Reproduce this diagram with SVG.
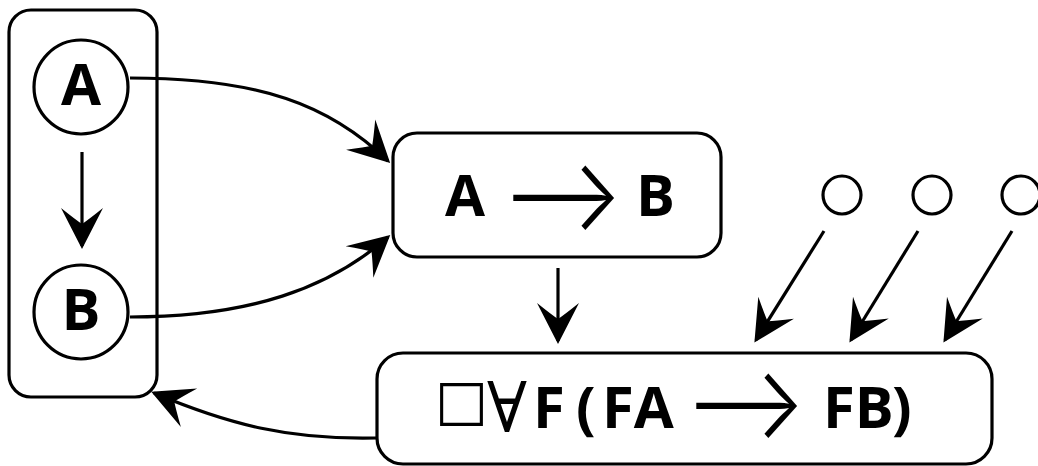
<svg xmlns="http://www.w3.org/2000/svg" width="1038" height="466" viewBox="0 0 1038 466">
<style>
.box{fill:#fff;stroke:#000;stroke-width:3.2}
.ring{fill:#fff;stroke:#000;stroke-width:3.2}
.edge{fill:none;stroke:#000;stroke-width:3.2}
.t{font-family:"Open Sans","DejaVu Sans",sans-serif;font-weight:bold;font-size:58px;fill:#000}
.ar{font-family:Inter,"DejaVu Sans",sans-serif;font-weight:300;font-size:102px;fill:#000}
.sq{font-family:"DejaVu Sans",sans-serif;font-weight:normal;font-size:56px;fill:#000}
.fa{font-family:"DejaVu Serif","Liberation Serif",serif;font-weight:normal;font-size:70px;fill:#000}
</style>
<defs>
<marker id="ah" markerUnits="userSpaceOnUse" markerWidth="50" markerHeight="50" refX="0" refY="0" viewBox="-45 -25 50 50" orient="auto" overflow="visible">
<path d="M3,0 L-38,-21 Q-26,-6 -22,0 Q-26,6 -38,21 Z" fill="#000"/>
</marker>
</defs>
<rect width="1038" height="466" fill="#fff"/>
<g id="container">
<rect class="box" x="9" y="10" width="148" height="387" rx="22"/>
</g>
<g id="nodeA">
<circle class="ring" cx="81" cy="87" r="47"/>
<text class="t" x="81" y="105" text-anchor="middle">A</text>
</g>
<g id="nodeB">
<circle class="ring" cx="81" cy="312" r="47"/>
<text class="t" x="81" y="330" text-anchor="middle">B</text>
</g>
<g id="implication">
<rect class="box" x="393" y="133" width="328" height="124" rx="24"/>
<text class="t" x="445" y="216">A</text>
<text class="ar" x="502" y="230" textLength="121" lengthAdjust="spacingAndGlyphs">⟶</text>
<text class="t" x="636" y="216">B</text>
</g>
<g id="naturality">
<rect class="box" x="377" y="353" width="615" height="111" rx="26"/>
<text class="sq" x="435" y="419">□</text>
<text class="fa" x="487" y="432" textLength="40" lengthAdjust="spacingAndGlyphs">∀</text>
<text class="t" y="428"><tspan x="533">F</tspan><tspan x="576">(</tspan><tspan x="602">FA</tspan></text>
<text class="ar" x="685" y="438" textLength="121" lengthAdjust="spacingAndGlyphs">⟶</text>
<text class="t" y="428"><tspan x="823">FB</tspan><tspan x="892">)</tspan></text>
</g>
<g id="dot1"><circle class="ring" cx="842" cy="195" r="19"/></g>
<g id="dot2"><circle class="ring" cx="932" cy="195" r="19"/></g>
<g id="dot3"><circle class="ring" cx="1021" cy="195" r="19"/></g>
<g id="connectors">
<path class="edge" d="M82,152 L82,246" marker-end="url(#ah)"/>
<path class="edge" d="M130,78 C260,78 330,105 388,161" marker-end="url(#ah)"/>
<path class="edge" d="M130,317 C250,317 330,288 388,237" marker-end="url(#ah)"/>
<path class="edge" d="M558,268 L558,341" marker-end="url(#ah)"/>
<path class="edge" d="M377,438 C290,440 230,425 154,393" marker-end="url(#ah)"/>
<path class="edge" d="M824,231 L756,340" marker-end="url(#ah)"/>
<path class="edge" d="M918,231 L851,340" marker-end="url(#ah)"/>
<path class="edge" d="M1012,231 L945,340" marker-end="url(#ah)"/>
</g>
</svg>
